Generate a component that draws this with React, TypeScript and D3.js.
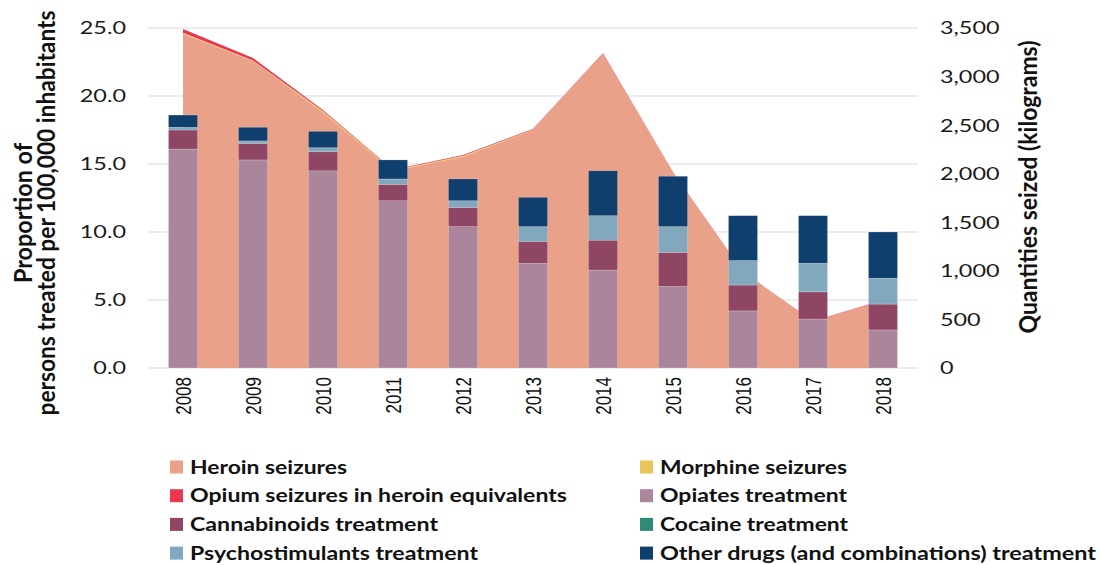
import React from 'react'
import * as d3 from 'd3'

const years = ['2008', '2009', '2010', '2011', '2012', '2013', '2014', '2015', '2016', '2017', '2018']

// seizures, kilograms (right axis)
const heroin = [3440, 3160, 2630, 2028, 2175, 2447, 3237, 2014, 986, 480, 696]
const morphine = [10, 5, 15, 8, 10, 5, 0, 0, 0, 0, 0]
const opium = [40, 25, 10, 6, 8, 8, 6, 4, 4, 4, 4]

// treatment, per 100,000 inhabitants (left axis)
const opiates = [16.1, 15.3, 14.5, 12.3, 10.4, 7.7, 7.2, 6.0, 4.2, 3.6, 2.8]
const cannabinoids = [1.4, 1.2, 1.4, 1.2, 1.4, 1.6, 2.2, 2.5, 1.9, 2.0, 1.9]
const cocaine = [0, 0, 0, 0, 0, 0, 0, 0, 0, 0, 0]
const psychostimulants = [0.2, 0.2, 0.3, 0.4, 0.5, 1.1, 1.8, 1.9, 1.8, 2.1, 1.9]
const otherDrugs = [0.9, 1.0, 1.2, 1.4, 1.6, 2.15, 3.3, 3.7, 3.3, 3.5, 3.4]

const leftTicks = [0, 5, 10, 15, 20, 25]
const rightTicks = [0, 500, 1000, 1500, 2000, 2500, 3000, 3500]

const colors = {
  heroin: '#E9A189',
  morphine: '#E8C55A',
  opium: '#E8374F',
  opiates: '#AB859C',
  cannabinoids: '#8E4664',
  cocaine: '#2E8B76',
  psychostimulants: '#82A8BD',
  other: '#0E3F6D',
}

const legendItems = [
  { label: 'Heroin seizures', color: colors.heroin, col: 0, row: 0, len: 157 },
  { label: 'Morphine seizures', color: colors.morphine, col: 1, row: 0, len: 187 },
  { label: 'Opium seizures in heroin equivalents', color: colors.opium, col: 0, row: 1, len: 377 },
  { label: 'Opiates treatment', color: colors.opiates, col: 1, row: 1, len: 187 },
  { label: 'Cannabinoids treatment', color: colors.cannabinoids, col: 0, row: 2, len: 248 },
  { label: 'Cocaine treatment', color: colors.cocaine, col: 1, row: 2, len: 188 },
  { label: 'Psychostimulants treatment', color: colors.psychostimulants, col: 0, row: 3, len: 288 },
  { label: 'Other drugs (and combinations) treatment', color: colors.other, col: 1, row: 3, len: 436 },
]

const SX = 1.3 // the reference's text is stretched sideways
const font = 'Lato, "Open Sans", sans-serif'

export default function App() {
  const margin = { top: 28, left: 148, right: 918, bottom: 368 }

  const x = d3
    .scaleBand<string>()
    .domain(years)
    .range([margin.left, margin.right])
    .paddingInner(0.585)
    .paddingOuter(0.2925)
  const cx = (yr: string) => (x(yr) ?? 0) + x.bandwidth() / 2

  const yLeft = d3.scaleLinear().domain([0, 25]).range([margin.bottom, margin.top])
  const yRight = d3.scaleLinear().domain([0, 3500]).range([margin.bottom, margin.top])

  const seizureRows = years.map((yr, i) => ({
    year: yr,
    heroin: heroin[i],
    morphine: morphine[i],
    opium: opium[i],
  }))
  const areaStack = d3.stack<any>().keys(['heroin', 'morphine', 'opium'])(seizureRows)
  const area = d3
    .area<any>()
    .x((d) => cx(d.data.year))
    .y0((d) => yRight(d[0]))
    .y1((d) => yRight(d[1]))
  const areaColors = [colors.heroin, colors.morphine, colors.opium]

  const treatRows = years.map((yr, i) => ({
    year: yr,
    opiates: opiates[i],
    cannabinoids: cannabinoids[i],
    cocaine: cocaine[i],
    psychostimulants: psychostimulants[i],
    other: otherDrugs[i],
  }))
  const barKeys = ['opiates', 'cannabinoids', 'cocaine', 'psychostimulants', 'other']
  const barStack = d3.stack<any>().keys(barKeys)(treatRows)

  return (
    <svg
      width={1101}
      height={565}
      style={{ position: 'absolute', left: 0, top: 0, background: '#fff' }}
      fontFamily={font}
    >
      {/* gridlines */}
      {leftTicks.map((t) => (
        <line
          key={t}
          x1={margin.left}
          x2={margin.right}
          y1={yLeft(t)}
          y2={yLeft(t)}
          stroke="#D9D9D9"
          strokeWidth={1}
        />
      ))}

      {/* seizures as stacked area */}
      {areaStack.map((s, i) => (
        <path key={s.key} d={area(s) ?? ''} fill={areaColors[i]} />
      ))}

      {/* treatment bars */}
      {barStack.map((s) => (
        <g key={s.key} fill={(colors as any)[s.key]}>
          {s.map((d: any) =>
            d[1] - d[0] > 0 ? (
              <rect
                key={d.data.year}
                x={x(d.data.year)}
                width={x.bandwidth()}
                y={yLeft(d[1])}
                height={yLeft(d[0]) - yLeft(d[1])}
                stroke="rgba(255,255,255,0.35)"
                strokeWidth={0.6}
              />
            ) : null,
          )}
        </g>
      ))}

      {/* left ticks */}
      {leftTicks.map((t) => (
        <text
          key={t}
          transform={`translate(126,${yLeft(t)}) scale(${SX},1)`}
          dy="0.36em"
          textAnchor="end"
          fontSize={18}
          fill="#1a1a1a"
        >
          {d3.format('.1f')(t)}
        </text>
      ))}

      {/* right ticks */}
      {rightTicks.map((t) => (
        <text
          key={t}
          transform={`translate(940,${yRight(t)}) scale(${SX},1)`}
          dy="0.36em"
          textAnchor="start"
          fontSize={18}
          fill="#1a1a1a"
        >
          {d3.format(',')(t)}
        </text>
      ))}

      {/* x labels */}
      {years.map((yr) => (
        <text
          key={yr}
          transform={`translate(${cx(yr)},377) scale(1.35,1) rotate(-90)`}
          dy="0.36em"
          textAnchor="end"
          fontSize={17}
          fontFamily='"Liberation Sans", Arial, sans-serif'
          fill="#111"
        >
          {yr}
        </text>
      ))}

      {/* axis titles */}
      <text
        transform={`translate(32,213) scale(${SX},1) rotate(-90)`}
        textAnchor="middle"
        fontSize={19}
        fontWeight="bold"
        fill="#111"
        textLength={140}
        lengthAdjust="spacingAndGlyphs"
      >
        Proportion of
      </text>
      <text
        transform={`translate(55,213) scale(${SX},1) rotate(-90)`}
        textAnchor="middle"
        fontSize={19}
        fontWeight="bold"
        fill="#111"
        textLength={405}
        lengthAdjust="spacingAndGlyphs"
      >
        persons treated per 100,000 inhabitants
      </text>
      <text
        transform={`translate(1037,187) scale(${SX},1) rotate(-90)`}
        textAnchor="middle"
        fontSize={19}
        fontWeight="bold"
        fill="#111"
        textLength={293}
        lengthAdjust="spacingAndGlyphs"
      >
        Quantities seized (kilograms)
      </text>

      {/* legend */}
      {legendItems.map((it) => {
        const lx = it.col === 0 ? 170 : 640
        const ly = 467 + it.row * 28.7
        return (
          <g key={it.label}>
            <rect x={lx} y={ly - 6.5} width={13} height={13} fill={it.color} />
            <text
              x={lx + 20}
              y={ly}
              dy="0.36em"
              fontSize={18.5}
              fontWeight="bold"
              fill="#111"
              textLength={it.len}
              lengthAdjust="spacingAndGlyphs"
            >
              {it.label}
            </text>
          </g>
        )
      })}
    </svg>
  )
}
